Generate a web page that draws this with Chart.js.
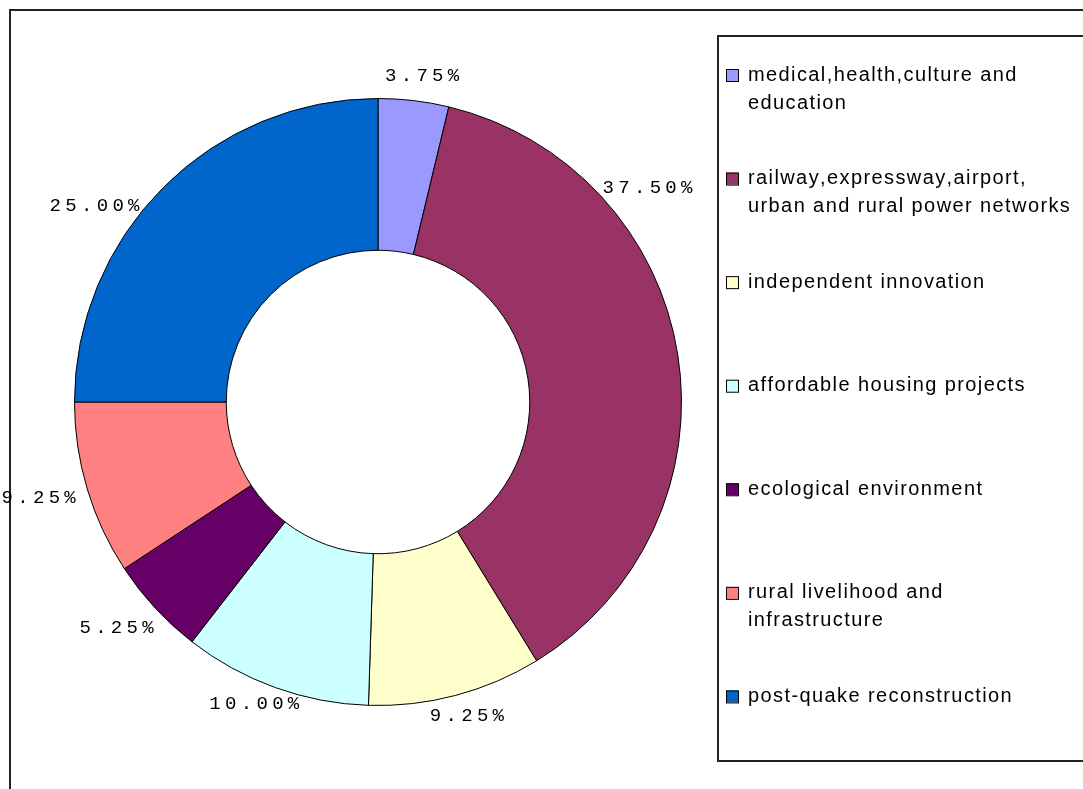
<!DOCTYPE html>
<html>
<head>
<meta charset="utf-8">
<title>Investment breakdown</title>
<script src="https://cdn.jsdelivr.net/npm/chart.js@4.4.1/dist/chart.umd.min.js"></script>
<style>
  html, body { margin: 0; padding: 0; background: #fff; }
  canvas { display: block; }
</style>
</head>
<body>
<canvas id="investChart" width="1083" height="789"></canvas>
<script>
// categories (multi-line, as wrapped in the legend)
const categories = [
  ['medical,health,culture and', 'education'],
  ['railway,expressway,airport,', 'urban and rural power networks'],
  ['independent innovation'],
  ['affordable housing projects'],
  ['ecological environment'],
  ['rural livelihood and', 'infrastructure'],
  ['post-quake reconstruction']
];
const shares = [3.75, 37.50, 9.25, 10.00, 5.25, 9.25, 25.00];
const sliceColors = ['#9999FF', '#993366', '#FFFFCC', '#CCFFFF', '#660066', '#FF8080', '#0066CC'];

// draw text char by char with extra spacing (old pixel fonts are wide)
function spacedText(ctx, text, x, y, gap, align) {
  let total = 0;
  for (const ch of text) total += ctx.measureText(ch).width + gap;
  total -= gap;
  let cx = align === 'center' ? x - total / 2 : x;
  for (const ch of text) {
    ctx.fillText(ch, cx, y);
    cx += ctx.measureText(ch).width + gap;
  }
}

// white page + the two frames
const framePlugin = {
  id: 'frames',
  beforeDraw(chart) {
    const ctx = chart.ctx;
    ctx.save();
    ctx.fillStyle = '#fff';
    ctx.fillRect(0, 0, chart.width, chart.height);
    ctx.strokeStyle = '#222';
    ctx.lineWidth = 2;
    ctx.strokeRect(10, 10, chart.width + 20, chart.height + 20);
    ctx.strokeRect(718, 36, chart.width, 725);
    ctx.restore();
  }
};

// legend boxed on the right, items spread evenly
const legendPlugin = {
  id: 'boxLegend',
  afterDraw(chart) {
    const ctx = chart.ctx;
    const colors = chart.data.datasets[0].backgroundColor;
    const step = 725 / categories.length;
    ctx.save();
    ctx.font = '20px "Liberation Sans", Arial, sans-serif';
    ctx.textBaseline = 'middle';
    categories.forEach((lines, i) => {
      const y = 75 + i * step;
      ctx.fillStyle = colors[i];
      ctx.fillRect(726, y - 6, 12, 12);
      ctx.strokeStyle = '#000';
      ctx.lineWidth = 1;
      ctx.strokeRect(726.5, y - 5.5, 12, 12);
      ctx.fillStyle = '#000';
      lines.forEach((line, j) => spacedText(ctx, line, 748, y + j * 28, 1.4, 'left'));
    });
    ctx.restore();
  }
};

// percentage labels around the ring (polar spot: degrees from top, radius factor)
const pctLabelPlugin = {
  id: 'pctLabels',
  afterDatasetsDraw(chart, args, opts) {
    const ctx = chart.ctx;
    const arc = chart.getDatasetMeta(0).data[0];
    const r = arc.outerRadius;
    ctx.save();
    ctx.font = '19px "Liberation Mono", "DejaVu Sans Mono", monospace';
    ctx.textBaseline = 'middle';
    ctx.fillStyle = '#000';
    shares.forEach((v, i) => {
      const a = opts.spots[i][0] * Math.PI / 180;
      const d = opts.spots[i][1] * r;
      const x = arc.x + d * Math.sin(a);
      const y = arc.y - d * Math.cos(a);
      spacedText(ctx, v.toFixed(2) + '%', x, y, 4.3, 'center');
    });
    ctx.restore();
  }
};

const ctx = document.getElementById('investChart').getContext('2d');
new Chart(ctx, {
  type: 'doughnut',
  data: {
    labels: categories,
    datasets: [{
      data: shares,
      backgroundColor: sliceColors,
      borderColor: '#000',
      borderWidth: 1,
      hoverOffset: 0
    }]
  },
  options: {
    responsive: false,
    animation: false,
    cutout: '50%',
    layout: {
      padding: { left: 74, top: 98, right: 401, bottom: 83 }
    },
    plugins: {
      legend: { display: false },
      tooltip: { enabled: false },
      pctLabels: {
        spots: [[7.7, 1.085], [51.6, 1.133], [164.2, 1.076], [202.3, 1.074],
                [229.2, 1.138], [254.2, 1.162], [304.7, 1.136]]
      }
    }
  },
  plugins: [framePlugin, pctLabelPlugin, legendPlugin]
});
</script>
</body>
</html>
